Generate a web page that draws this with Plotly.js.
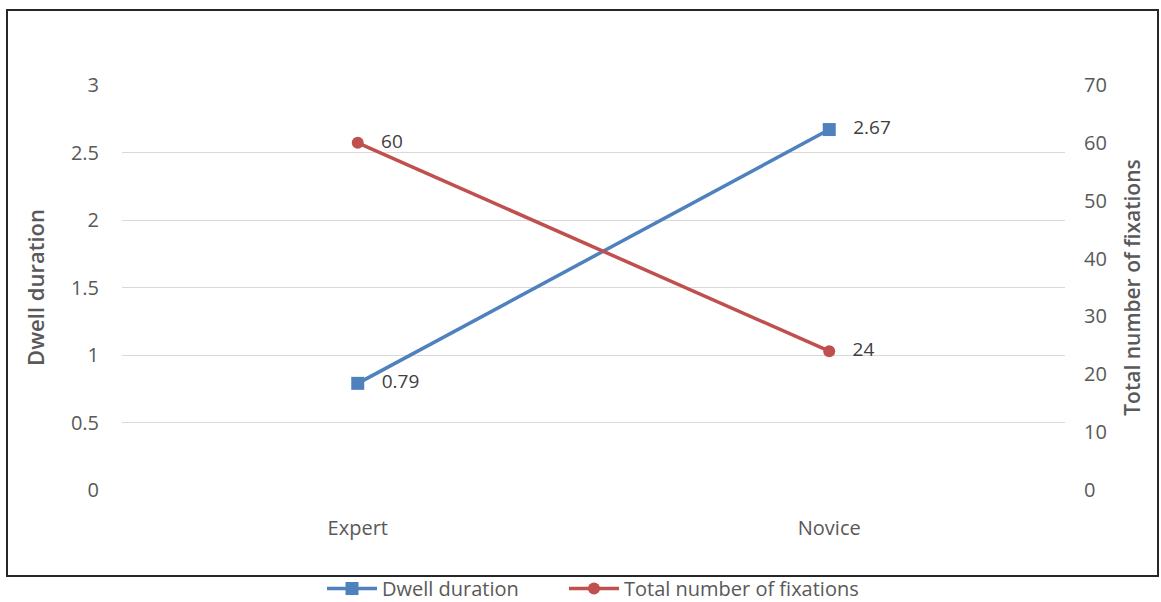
<!DOCTYPE html>
<html>
<head>
<meta charset="utf-8">
<script src="https://cdn.plot.ly/plotly-3.0.1.min.js"></script>
<style>html,body{margin:0;padding:0;background:#fff;overflow:hidden;}#chart{width:1161px;height:608px;}</style>
</head>
<body>
<div id="chart"></div>
<script>
const categories = ["Expert", "Novice"];
const dwellDuration = [0.79, 2.67];
const totalFixations = [60, 24];
const leftTicks = [0, 0.5, 1, 1.5, 2, 2.5, 3];
const rightTicks = [0, 10, 20, 30, 40, 50, 60, 70];

const FONT = "Open Sans, Noto Sans, sans-serif";
const GRAY = "#595959";
const PAD = "\u00a0\u00a0\u00a0";
const FIG_H = 608;

const traces = [
  {
    x: categories, y: dwellDuration, name: "Dwell duration",
    type: "scatter", mode: "lines+markers+text",
    text: dwellDuration.map(v => PAD + v.toFixed(2)),
    textposition: "middle right",
    textfont: {family: FONT, size: 19, color: "#404040"},
    line: {color: "#4F81BD", width: 3.5},
    marker: {symbol: "square", size: 13, color: "#4F81BD"},
    yaxis: "y", cliponaxis: false, legend: "legend"
  },
  {
    x: categories, y: totalFixations, name: "Total number of fixations",
    type: "scatter", mode: "lines+markers+text",
    text: totalFixations.map(v => PAD + String(v)),
    textposition: "middle right",
    textfont: {family: FONT, size: 19, color: "#404040"},
    line: {color: "#C0504D", width: 3.5},
    marker: {symbol: "circle", size: 12, color: "#C0504D"},
    yaxis: "y2", cliponaxis: false, legend: "legend2"
  }
];

const legendBase = {
  orientation: "h", xref: "container", xanchor: "left",
  yref: "container", y: 0, yanchor: "bottom",
  bgcolor: "rgba(0,0,0,0)", borderwidth: 0,
  font: {family: FONT, size: 20, color: GRAY}, itemwidth: 50
};

const layout = {
  width: 1161, height: FIG_H,
  margin: {l: 122, r: 96, t: 85, b: FIG_H - 85 - 405},
  paper_bgcolor: "#fff", plot_bgcolor: "#fff",
  font: {family: FONT, color: GRAY, size: 18},
  showlegend: true,
  legend: Object.assign({}, legendBase, {x: 322 / 1161}),
  legend2: Object.assign({}, legendBase, {x: 564 / 1161}),
  xaxis: {
    type: "category", range: [-0.5, 1.5], showgrid: false, zeroline: false,
    showline: false, ticks: "", ticklabelstandoff: 24, automargin: false,
    tickfont: {family: FONT, size: 20, color: GRAY}
  },
  yaxis: {
    range: [0, 3], tickvals: leftTicks, ticktext: leftTicks.map(String),
    showgrid: true, gridcolor: "#d9d9d9", gridwidth: 1, zeroline: false,
    showline: false, ticks: "", ticklabelstandoff: 22, automargin: true,
    tickfont: {family: FONT, size: 20, color: GRAY},
    title: {text: "Dwell duration", standoff: 20,
            font: {family: FONT, size: 22, color: GRAY, weight: 600}}
  },
  yaxis2: {
    range: [0, 70], tickvals: rightTicks, ticktext: rightTicks.map(String),
    overlaying: "y", side: "right", showgrid: false, zeroline: false,
    showline: false, ticks: "", ticklabelstandoff: 18, automargin: true,
    tickfont: {family: FONT, size: 20, color: GRAY},
    title: {text: "Total number of fixations", standoff: 19,
            font: {family: FONT, size: 21, color: GRAY, weight: 600}}
  },
  shapes: [{
    type: "rect", xref: "paper", yref: "paper",
    x0: (7 - 122) / 943, x1: (1158 - 122) / 943,
    y0: (490 - 576) / 405, y1: (490 - 10) / 405,
    line: {color: "#262626", width: 2}, fillcolor: "rgba(0,0,0,0)", layer: "below"
  }]
};

Plotly.newPlot("chart", traces, layout, {displayModeBar: false, responsive: false});
</script>
</body>
</html>
